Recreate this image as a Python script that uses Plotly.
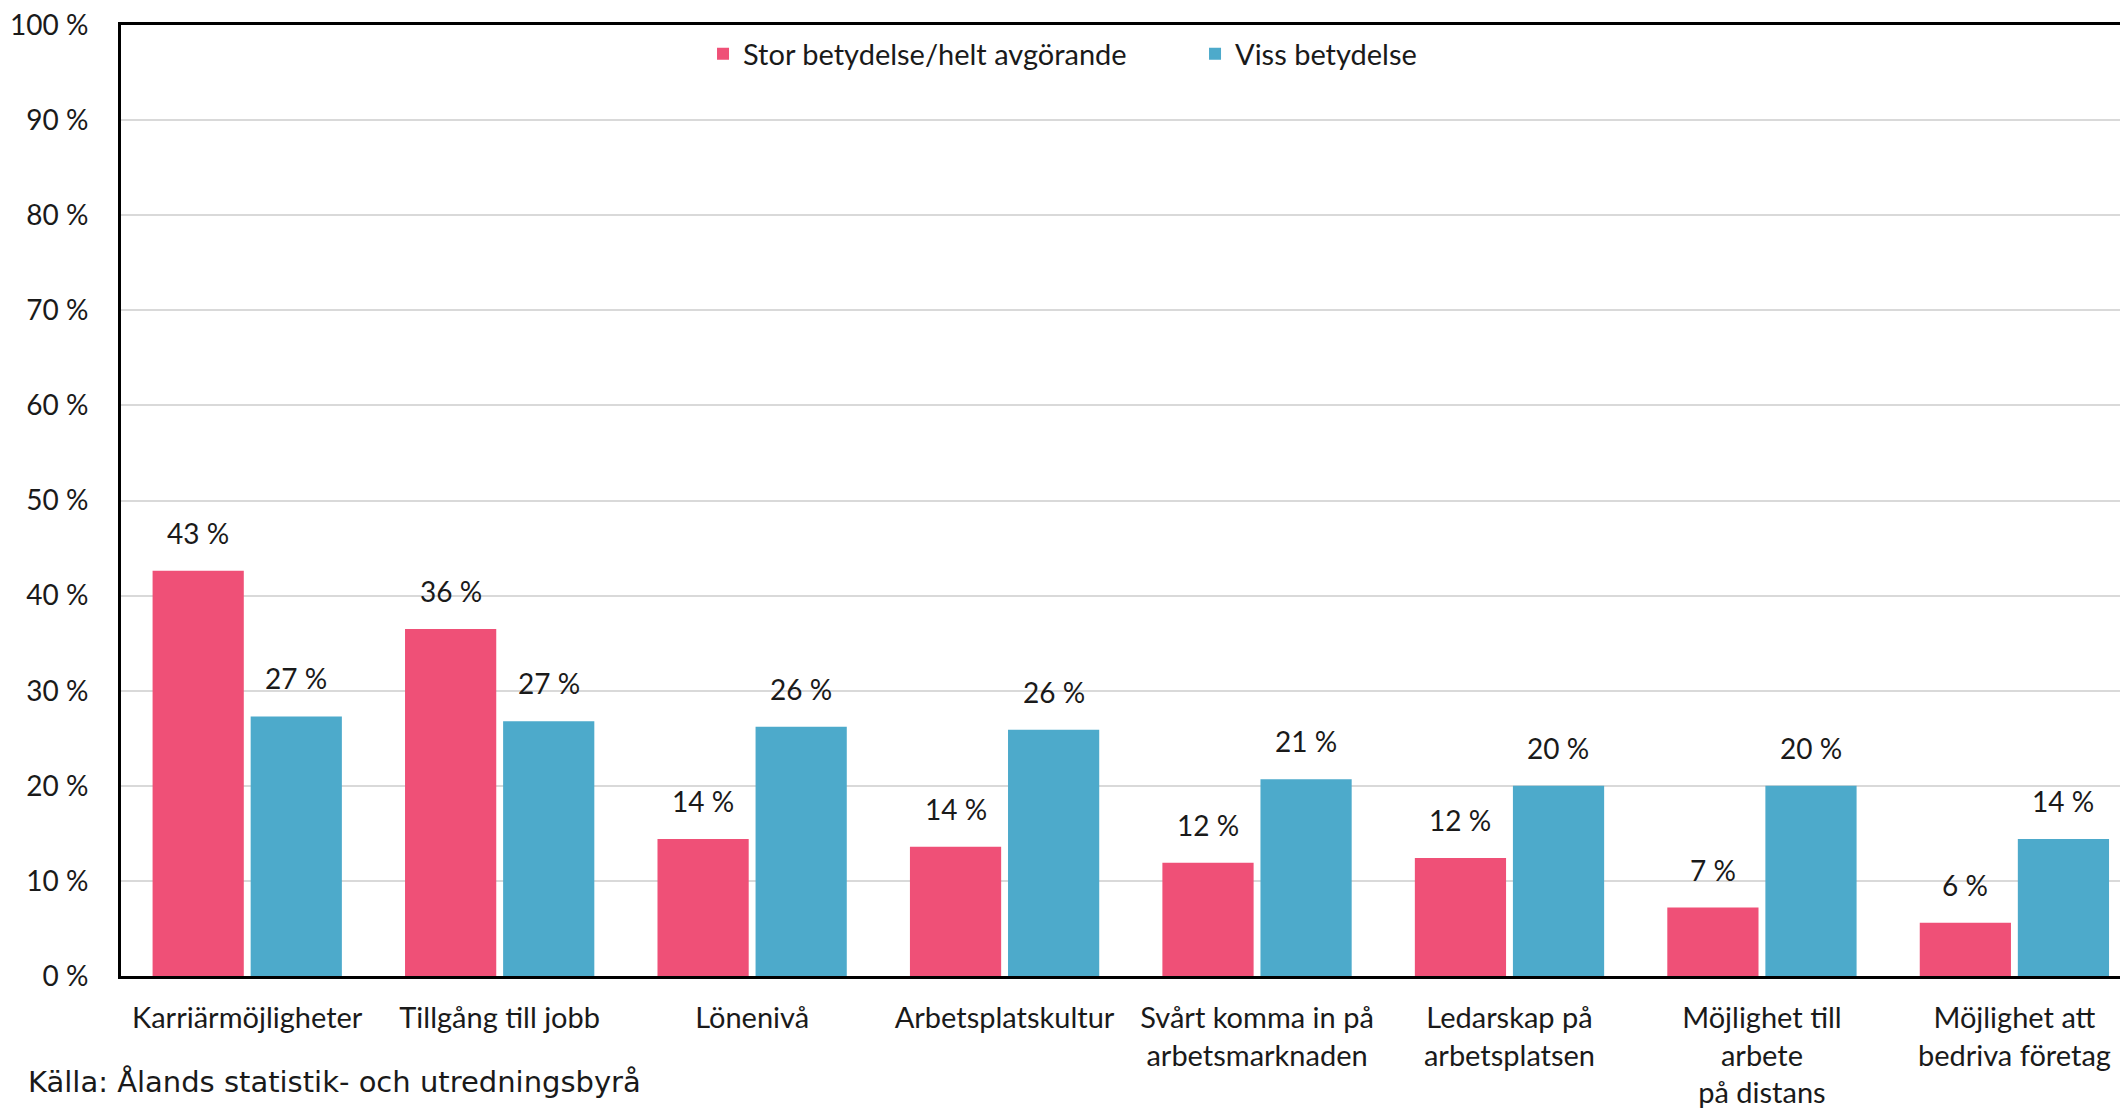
import plotly.graph_objects as go

categories = [
    "Karriärmöjligheter",
    "Tillgång till jobb",
    "Lönenivå",
    "Arbetsplatskultur",
    "Svårt komma in på<br>arbetsmarknaden",
    "Ledarskap på<br>arbetsplatsen",
    "Möjlighet till<br>arbete<br>på distans",
    "Möjlighet att<br>bedriva företag",
]
stor_betydelse = [42.6, 36.5, 14.4, 13.6, 11.9, 12.4, 7.2, 5.6]
viss_betydelse = [27.3, 26.8, 26.2, 25.9, 20.7, 20.0, 20.0, 14.4]
series_names = ["Stor betydelse/helt avgörande", "Viss betydelse"]
colors = ["#EF5077", "#4DAACB"]
y_ticks = [0, 10, 20, 30, 40, 50, 60, 70, 80, 90, 100]

FONT = "Lato, sans-serif"
TXT = "#1a1a1a"
PLOT_H = 1106 - 17 - 138

fig = go.Figure()
for name, vals, col in zip(series_names, [stor_betydelse, viss_betydelse], colors):
    fig.add_trace(go.Bar(
        x=categories, y=vals, name=name,
        marker=dict(color=col, line=dict(width=0)),
    ))

# data labels above bars
for vals, shift in [(stor_betydelse, -49), (viss_betydelse, 49)]:
    for cat, v in zip(categories, vals):
        fig.add_annotation(
            x=cat, y=v, text=f"{round(v)} %", showarrow=False,
            xshift=shift, yshift=38, yanchor="middle",
            font=dict(family=FONT, size=28, color=TXT),
        )

# page body adds an 8px margin, so figure is 8px smaller than the window
fig.add_annotation(
    xref="paper", yref="paper", x=(18 - 113) / 2007, y=-106 / PLOT_H,
    xanchor="left", yanchor="middle", showarrow=False,
    text="Källa: Ålands statistik- och utredningsbyrå",
    font=dict(family="DejaVu Sans, sans-serif", size=29, color=TXT),
)

fig.update_layout(
    width=2120, height=1106,
    margin=dict(l=113, r=0, t=17, b=138),
    paper_bgcolor="white", plot_bgcolor="white",
    barmode="group", bargap=0.223, bargroupgap=0.07,
    font=dict(family=FONT, size=29, color=TXT),
    legend=dict(
        orientation="h", x=0.290, y=1 - 29 / PLOT_H, xanchor="left", yanchor="middle",
        font=dict(family=FONT, size=29, color=TXT),
        bgcolor="rgba(0,0,0,0)", entrywidth=447, entrywidthmode="pixels",
    ),
)
fig.update_xaxes(
    range=[-0.5, 7.45], showline=True, linecolor="black", linewidth=3,
    mirror=True, ticks="", ticklabelstandoff=14, showgrid=False,
    automargin=False,
    tickfont=dict(family=FONT, size=29, color=TXT),
)
fig.update_yaxes(
    range=[0, 100], tickvals=y_ticks, ticktext=[f"{t} %" for t in y_ticks],
    showline=True, linecolor="black", linewidth=3, ticks="",
    showgrid=True, gridcolor="#D9D9D9", gridwidth=2, zeroline=False,
    ticklabelstandoff=24, automargin=False, ticklabeloverflow="allow",
    tickfont=dict(family=FONT, size=28, color=TXT),
)

fig.write_html("out.html")
